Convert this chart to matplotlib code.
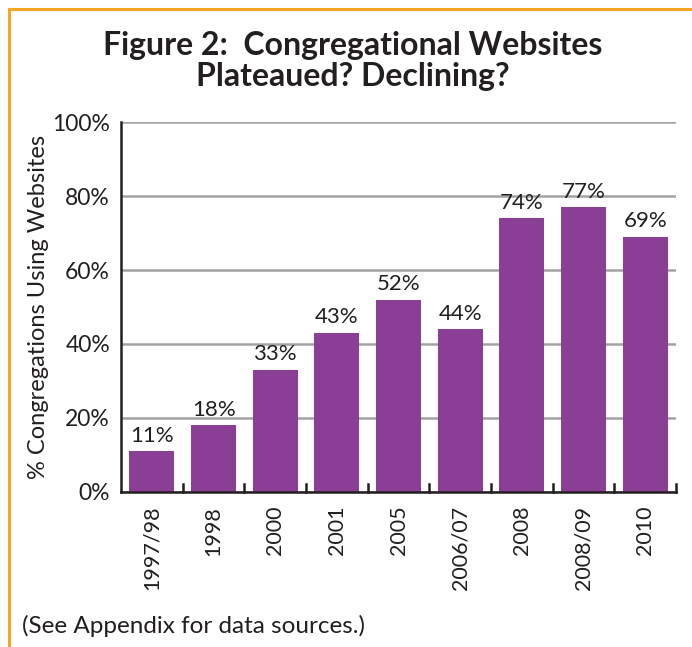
import matplotlib.pyplot as plt
from matplotlib.lines import Line2D

# survey years and share of congregations with a website (%)
years = ['1997/98', '1998', '2000', '2001', '2005', '2006/07', '2008', '2008/09', '2010']
pct_websites = [11, 18, 33, 43, 52, 44, 74, 77, 69]
y_ticks = [0, 20, 40, 60, 80, 100]

BAR_COLOR = '#8B3E96'
GRID_COLOR = '#A3A3A3'
BORDER_COLOR = '#F5A623'
TEXT_COLOR = '#231F20'

plt.rcParams['font.family'] = ['Lato', 'DejaVu Sans']

fig = plt.figure(figsize=(6.92, 6.47), dpi=100)
ax = fig.add_axes([0.175, 0.2396, 0.802, 0.5718])

x = range(len(years))
bars = ax.bar(x, pct_websites, width=0.73, color=BAR_COLOR, zorder=3)
for xi, v in zip(x, pct_websites):
    ax.text(xi, v + 1.5, f'{v}%', ha='center', va='bottom', fontsize=16, color=TEXT_COLOR)

ax.set_xlim(-0.5, len(years) - 0.5)
ax.set_ylim(0, 100)
ax.set_yticks(y_ticks)
ax.set_yticklabels([f'{t}%' for t in y_ticks], fontsize=16.5, color=TEXT_COLOR)
ax.yaxis.grid(True, color=GRID_COLOR, linewidth=1.8, zorder=0)
ax.tick_params(axis='y', length=0, pad=8)

# category labels rotated, ticks drawn at the category boundaries
ax.set_xticks(list(x))
ax.set_xticklabels(years, rotation=90, fontsize=15.5, color=TEXT_COLOR)
ax.tick_params(axis='x', length=0, pad=10)
for b in [i - 0.5 for i in range(1, len(years) + 1)]:
    ax.plot([b, b], [0, 2.2], color=TEXT_COLOR, linewidth=1.8, clip_on=False, zorder=4)

for side in ['top', 'right']:
    ax.spines[side].set_visible(False)
for side in ['left', 'bottom']:
    ax.spines[side].set_color(TEXT_COLOR)
    ax.spines[side].set_linewidth(1.8)
    ax.spines[side].set_zorder(4)

ax.set_ylabel('% Congregations Using Websites', fontsize=17, color=TEXT_COLOR)
ax.yaxis.set_label_coords(-0.13, 0.5)

fig.text(0.51, 0.93, 'Figure 2:  Congregational Websites', ha='center', va='center',
         fontsize=23, fontweight='bold', color=TEXT_COLOR)
fig.text(0.51, 0.882, 'Plateaued? Declining?', ha='center', va='center',
         fontsize=23, fontweight='bold', color=TEXT_COLOR)
fig.text(0.032, 0.033, '(See Appendix for data sources.)', ha='left', va='center',
         fontsize=17.5, color=TEXT_COLOR)

# orange frame along the top and left edges
fig.add_artist(Line2D([9 / 692, 1.0], [1 - 9 / 647, 1 - 9 / 647], color=BORDER_COLOR, linewidth=2.2))
fig.add_artist(Line2D([9 / 692, 9 / 692], [0, 1 - 9 / 647], color=BORDER_COLOR, linewidth=2.2))

fig.savefig('out.png', dpi=100)
